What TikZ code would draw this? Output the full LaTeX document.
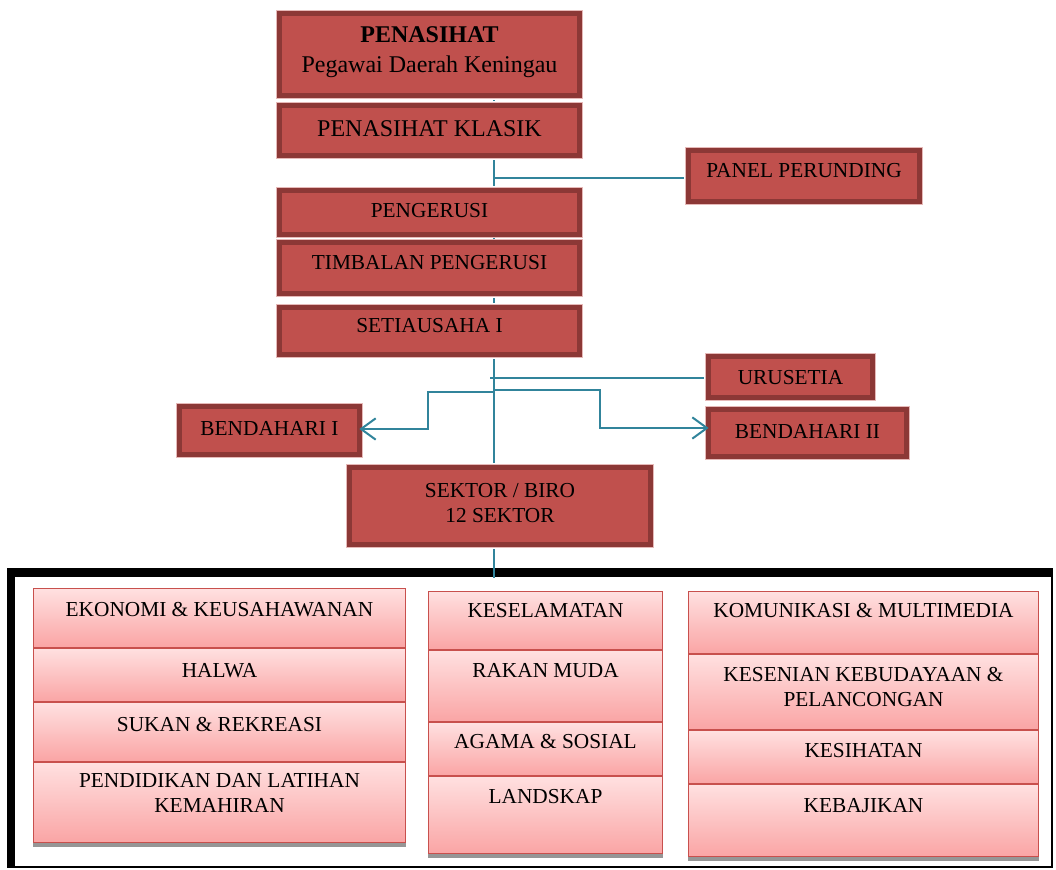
\documentclass[tikz,border=0pt]{standalone}
\usepackage{fontspec}
\setmainfont{Liberation Serif}
\usetikzlibrary{arrows.meta}
\definecolor{boxred}{RGB}{192,80,77}
\definecolor{boxdark}{RGB}{140,56,54}
\definecolor{boxpale}{RGB}{230,185,184}
\definecolor{pinktop}{RGB}{255,224,224}
\definecolor{pinkbot}{RGB}{250,165,165}
\definecolor{pinkline}{RGB}{200,80,77}
\definecolor{shadowgray}{RGB}{150,150,150}
\definecolor{conn}{RGB}{49,132,155}
\tikzset{
 darkbox/.style={draw=boxdark, line width=3.5pt, fill=boxred, inner sep=0pt,
   preaction={draw=boxpale, line width=4.8pt}},
 pinkbox/.style={draw=pinkline, line width=1.1pt, top color=pinktop, bottom color=pinkbot, inner sep=0pt},
 lbl/.style={inner sep=0pt, anchor=north, align=center, font=\fontsize{16}{18.75}\selectfont},
 biglbl/.style={lbl, font=\fontsize{18}{21.9}\selectfont},
 link/.style={draw=conn, line width=1.5pt},
 vlink/.style={link, shorten <=1.75pt, shorten >=1.75pt},
 arr/.style={-{Straight Barb[length=11pt,width=16pt]}, shorten >=-2pt},
}
\newcommand\mkdark[8]{%
 \node[darkbox, minimum width={(#4-#2)*0.75pt-3.5pt}, minimum height={(#5-#3)*0.75pt-3.5pt}] (#1) at ({(#2+#4)/2},{(#3+#5)/2}) {};
 \node[#8] (#1-t) at ({(#2+#4)/2},#6) {#7};}
\newcommand\mkpink[7]{%
 \fill[shadowgray] (#2,{#3+4}) rectangle (#4,{#5+4});
 \node[pinkbox, minimum width={(#4-#2)*0.75pt-1.1pt}, minimum height={(#5-#3)*0.75pt-1.1pt}] (#1) at ({(#2+#4)/2},{(#3+#5)/2}) {};
 \node[lbl] (#1-t) at ({(#2+#4)/2},#6) {#7};}
\begin{document}
\begin{tikzpicture}[x=0.75pt,y=-0.75pt]
\useasboundingbox (0,0) rectangle (1056,870);
% frame
\fill[black] (7,568) rectangle (1053,868);
\fill[white] (15,577) rectangle (1051,866);
% dark boxes
\mkdark{pen}{277}{11}{582}{98}{26.7}{\textbf{PENASIHAT}\\Pegawai Daerah Keningau}{biglbl}
\mkdark{klasik}{277}{103}{582}{158}{120.5}{PENASIHAT KLASIK}{biglbl}
\mkdark{panel}{686}{148}{922}{204}{163}{PANEL PERUNDING}{lbl}
\mkdark{peng}{277}{188}{582}{237}{203.3}{PENGERUSI}{lbl}
\mkdark{timb}{277}{240}{582}{296}{255}{TIMBALAN PENGERUSI}{lbl}
\mkdark{setia}{277}{305}{582}{357}{318.5}{SETIAUSAHA I}{lbl}
\mkdark{uru}{706}{354}{875}{400}{370}{URUSETIA}{lbl}
\mkdark{ben1}{177}{404}{362}{457}{421}{BENDAHARI I}{lbl}
\mkdark{ben2}{706}{407}{909}{459}{424}{BENDAHARI II}{lbl}
\mkdark{sektor}{347}{465}{653}{547}{483}{SEKTOR / BIRO\\12 SEKTOR}{lbl}
% pink boxes, column 1
\mkpink{ekon}{33}{588}{406}{648}{601.7}{EKONOMI \& KEUSAHAWANAN}
\mkpink{halwa}{33}{648}{406}{702}{663.3}{HALWA}
\mkpink{sukan}{33}{702}{406}{762}{716.7}{SUKAN \& REKREASI}
\mkpink{pend}{33}{762}{406}{843}{773.3}{PENDIDIKAN DAN LATIHAN\\KEMAHIRAN}
% column 2
\mkpink{kesel}{428}{591}{663}{650}{603.3}{KESELAMATAN}
\mkpink{rakan}{428}{650}{663}{722}{663.3}{RAKAN MUDA}
\mkpink{agama}{428}{722}{663}{776}{734}{AGAMA \& SOSIAL}
\mkpink{land}{428}{776}{663}{854}{789.3}{LANDSKAP}
% column 3
\mkpink{komu}{688}{591}{1039}{654}{603.3}{KOMUNIKASI \& MULTIMEDIA}
\mkpink{kesen}{688}{654}{1039}{730}{666.7}{KESENIAN KEBUDAYAAN \&\\PELANCONGAN}
\mkpink{kesih}{688}{730}{1039}{784}{742.7}{KESIHATAN}
\mkpink{kebaj}{688}{784}{1039}{857}{797.7}{KEBAJIKAN}
% connectors
\coordinate (spine) at (494,0);
\coordinate (ftop) at (494,578);
\draw[vlink] (pen.south -| spine) -- (klasik.north -| spine);
\draw[vlink] (klasik.south -| spine) -- (peng.north -| spine);
\draw[vlink] (peng.south -| spine) -- (timb.north -| spine);
\draw[vlink] (timb.south -| spine) -- (setia.north -| spine);
\draw[vlink] (setia.south -| spine) -- (sektor.north -| spine);
\draw[link, shorten <=1.75pt] (sektor.south -| spine) -- (ftop);
\coordinate (j1) at (494,178);
\draw[link, shorten >=1.75pt] (j1) -- (j1 -| panel.west);
\coordinate (j2) at (490,378);
\draw[link, shorten >=1.75pt] (j2) -- (j2 -| uru.west);
\coordinate (j3) at (494,392);
\coordinate (b1c) at (428,392);
\coordinate (b1y) at (0,429);
\draw[link, arr] (j3) -- (b1c) |- (b1y -| ben1.east);
\coordinate (j4) at (494,390);
\coordinate (b2c) at (600,390);
\coordinate (b2y) at (0,428);
\draw[link, arr] (j4) -- (b2c) |- (b2y -| ben2.west);
\end{tikzpicture}
\end{document}
